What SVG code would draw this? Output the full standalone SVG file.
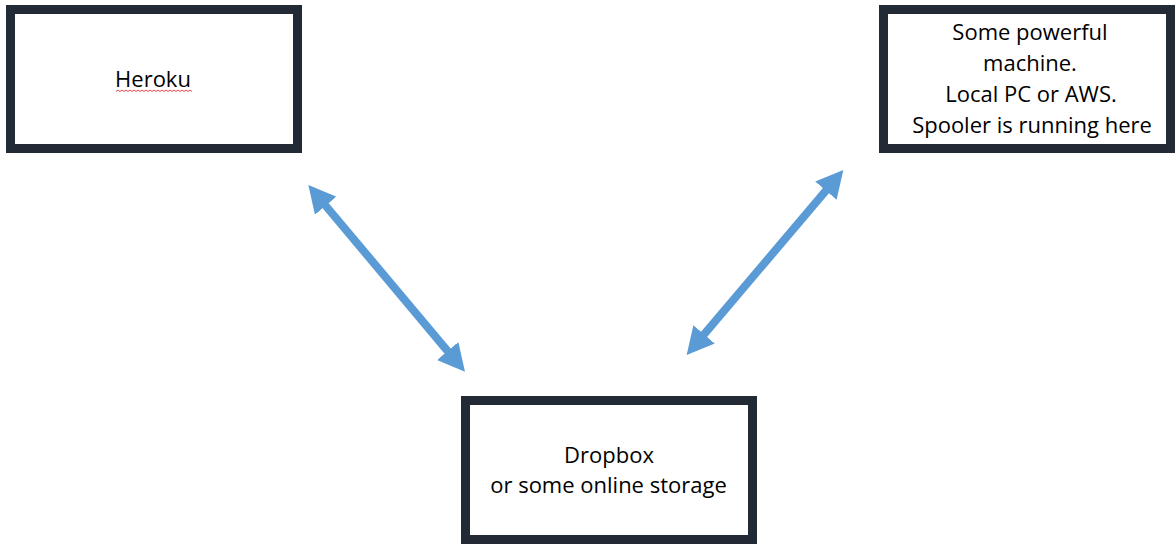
<svg xmlns="http://www.w3.org/2000/svg" width="1176" height="544" viewBox="0 0 1176 544">
  <style>
    .box { fill: #ffffff; stroke: #222a35; stroke-width: 9; }
    .lbl { font-family: "Open Sans", "Noto Sans", "Liberation Sans", sans-serif; font-size: 22px; fill: #000000; text-anchor: middle; }
    .conn { stroke: #5b9bd5; stroke-width: 8; fill: none; marker-start: url(#head); marker-end: url(#head); }
    .squiggle { stroke: #e53935; stroke-width: 0.9; fill: none; }
  </style>
  <defs>
    <marker id="head" markerUnits="userSpaceOnUse" viewBox="0 0 27 28" markerWidth="27" markerHeight="28" refX="2" refY="14" orient="auto-start-reverse">
      <path d="M0,0 L27,14 L0,28 Z" fill="#5b9bd5"/>
    </marker>
  </defs>
  <rect width="1176" height="544" fill="#ffffff"/>

  <g id="connectors">
    <line class="conn" x1="324.4" y1="204.2" x2="448.9" y2="352.6"/>
    <line class="conn" x1="827.2" y1="189.1" x2="702.8" y2="335.9"/>
  </g>

  <g id="heroku">
    <rect class="box" x="10.5" y="9.5" width="287" height="139"/>
    <text class="lbl" x="153" y="87">Heroku</text>
    <path class="squiggle" d="M116,91.5 l2,-1.5 l2,1.5 l2,-1.5 l2,1.5 l2,-1.5 l2,1.5 l2,-1.5 l2,1.5 l2,-1.5 l2,1.5 l2,-1.5 l2,1.5 l2,-1.5 l2,1.5 l2,-1.5 l2,1.5 l2,-1.5 l2,1.5 l2,-1.5 l2,1.5 l2,-1.5 l2,1.5 l2,-1.5 l2,1.5 l2,-1.5 l2,1.5 l2,-1.5 l2,1.5 l2,-1.5 l2,1.5 l2,-1.5 l2,1.5 l2,-1.5 l2,1.5 l2,-1.5 l2,1.5 l2,-1.5 l2,1.5"/>
  </g>

  <g id="machine">
    <rect class="box" x="883.5" y="9.5" width="287" height="139"/>
    <text class="lbl" x="1030" y="40">Some powerful</text>
    <text class="lbl" x="1030" y="71">machine.</text>
    <text class="lbl" x="1031" y="102">Local PC or AWS.</text>
    <text class="lbl" x="1032" y="133">Spooler is running here</text>
  </g>

  <g id="dropbox">
    <rect class="box" x="465.5" y="400.5" width="287" height="139"/>
    <text class="lbl" x="609" y="463">Dropbox</text>
    <text class="lbl" x="608.5" y="493">or some online storage</text>
  </g>
</svg>
